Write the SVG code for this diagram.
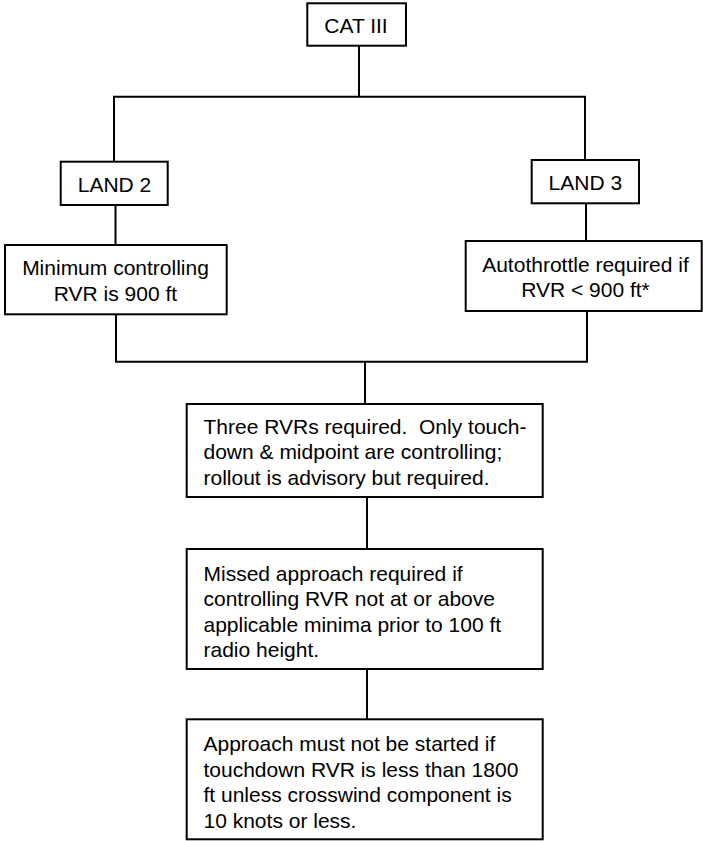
<svg xmlns="http://www.w3.org/2000/svg" width="703" height="841" viewBox="0 0 703 841">
<style>
.box{fill:#fff;stroke:#000;stroke-width:2}
.ln{fill:none;stroke:#000;stroke-width:2}
text{font-family:"Liberation Sans",Arial,sans-serif;font-size:21px;fill:#000}
.c{text-anchor:middle}
</style>
<rect width="703" height="841" fill="#fff"/>
<g id="connectors">
<polyline class="ln" points="359,46 359,96.7"/>
<polyline class="ln" points="114,161.7 114,96.7 585,96.7 585,160"/>
<line class="ln" x1="115.5" y1="205" x2="115.5" y2="245"/>
<line class="ln" x1="586" y1="203.3" x2="586" y2="241"/>
<polyline class="ln" points="116,314.3 116,361.7 587,361.7 587,311"/>
<line class="ln" x1="365" y1="361.7" x2="365" y2="404"/>
<line class="ln" x1="367" y1="497" x2="367" y2="549"/>
<line class="ln" x1="367" y1="669" x2="367" y2="719.3"/>
</g>
<g id="cat3">
<rect class="box" x="307.3" y="3.3" width="98.7" height="42.4"/>
<text class="c" x="356" y="33.3">CAT III</text>
</g>
<g id="land2">
<rect class="box" x="60.7" y="161.7" width="107" height="43.3"/>
<text class="c" x="114.5" y="192.3">LAND 2</text>
</g>
<g id="land3">
<rect class="box" x="531.7" y="160" width="107.3" height="43.3"/>
<text class="c" x="585.3" y="190">LAND 3</text>
</g>
<g id="min">
<rect class="box" x="5" y="245" width="221.7" height="69.3"/>
<text class="c" x="115.5" y="275">Minimum controlling</text>
<text class="c" x="115.5" y="300.5">RVR is 900 ft</text>
</g>
<g id="auto">
<rect class="box" x="465.7" y="241" width="236" height="70"/>
<text class="c" x="585.5" y="271.5">Autothrottle required if</text>
<text class="c" x="585.5" y="297">RVR &lt; 900 ft*</text>
</g>
<g id="rvrs">
<rect class="box" x="186.7" y="404" width="356" height="93"/>
<text x="203.5" y="433.5" xml:space="preserve">Three RVRs required.  Only touch-</text>
<text x="203.5" y="459">down &amp; midpoint are controlling;</text>
<text x="203.5" y="484.5">rollout is advisory but required.</text>
</g>
<g id="missed">
<rect class="box" x="186.7" y="549" width="356" height="120"/>
<text x="203.5" y="580.5">Missed approach required if</text>
<text x="203.5" y="606">controlling RVR not at or above</text>
<text x="203.5" y="631.5">applicable minima prior to 100 ft</text>
<text x="203.5" y="657">radio height.</text>
</g>
<g id="approach">
<rect class="box" x="186.7" y="719.3" width="356" height="120"/>
<text x="203.5" y="751">Approach must not be started if</text>
<text x="203.5" y="776.5">touchdown RVR is less than 1800</text>
<text x="203.5" y="802">ft unless crosswind component is</text>
<text x="203.5" y="827.5">10 knots or less.</text>
</g>
</svg>
